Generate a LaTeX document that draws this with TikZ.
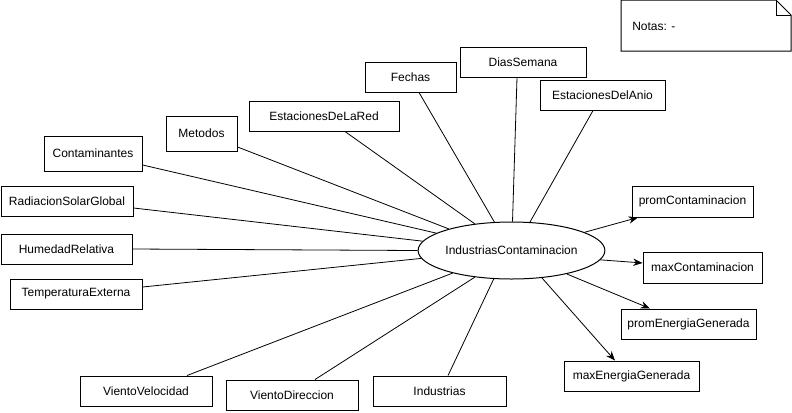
\documentclass[tikz,border=0pt]{standalone}
\usepackage{fontspec}
\setmainfont{Liberation Sans}
\usetikzlibrary{arrows.meta,shapes.geometric}
\begin{document}
\begin{tikzpicture}[x=0.75pt,y=-0.75pt,
  box/.style={draw,line width=0.75pt,inner sep=0pt,font=\fontsize{9}{11}\selectfont,text=black},
  hbox/.style={box,minimum height=22.5pt},
  link/.style={line width=0.6pt},
  arr/.style={line width=0.6pt,-{Stealth[length=7pt,width=5.5pt]}}]
\useasboundingbox (0,0) rectangle (792,412);
% central ellipse
\node[box,ellipse,minimum width=119.25pt,minimum height=42.75pt] (e) at (511.5,250.5) {IndustriasContaminacion};
% input boxes
\node[box,minimum width=53.25pt,minimum height=26.25pt] (metodos) at (201.5,133.5) {Metodos};
\node[box,minimum width=73.5pt,minimum height=26.25pt] (cont) at (93,153.5) {Contaminantes};
\node[hbox,minimum width=99pt] (rad) at (67,201) {RadiacionSolarGlobal};
\node[hbox,minimum width=98.25pt] (hum) at (66.5,249) {HumedadRelativa};
\node[hbox,minimum width=99pt] (temp) at (76,294) {TemperaturaExterna};
\node[hbox,minimum width=99pt] (vvel) at (146,391) {VientoVelocidad};
\node[hbox,minimum width=99pt] (vdir) at (292,395) {VientoDireccion};
\node[hbox,minimum width=99.75pt] (ind) at (439.5,391) {Industrias};
\node[hbox,minimum width=112.5pt] (red) at (324,116) {EstacionesDeLaRed};
\node[hbox,minimum width=68.25pt] (fechas) at (410.5,77) {Fechas};
\node[hbox,minimum width=94.5pt] (dias) at (523,62) {DiasSemana};
\node[hbox,minimum width=93.75pt] (anio) at (602.5,95) {EstacionesDelAnio};
% output boxes
\node[box,minimum width=90.75pt,minimum height=23.25pt] (promC) at (692.5,201.5) {promContaminacion};
\node[box,minimum width=89.25pt,minimum height=23.25pt] (maxC) at (702.5,267.5) {maxContaminacion};
\node[hbox,minimum width=101.25pt] (promE) at (688.5,324) {promEnergiaGenerada};
\node[hbox,minimum width=101.25pt] (maxE) at (631.5,376) {maxEnergiaGenerada};
% note
\draw[line width=0.75pt] (621,0) -- (776,0) -- (791,15) -- (791,51) -- (621,51) -- cycle;
\draw[line width=0.6pt] (776,0) -- (776,15) -- (791,15);
\node[anchor=west,inner sep=0pt,font=\fontsize{9}{11}\selectfont] (nota) at (632,26) {Notas: -};
% connectors (inputs)
\draw[link] ([xshift=15.75pt]red.south) -- (e.144);
\draw[link] ([yshift=-10.1pt]metodos.east) -- (e.161);
\draw[link] ([yshift=-8.6pt]cont.east) -- (e.167);
\draw[link] ([yshift=-5.25pt]rad.east) -- (e.174);
\draw[link] (hum.east) -- (e.180);
\draw[link] ([yshift=5.25pt]temp.east) -- (e.185.5);
\draw[link] ([xshift=30.75pt]vvel.north) -- (e.201);
\draw[link] ([xshift=17.25pt]vdir.north) -- (e.216.5);
\draw[link] ([xshift=6.4pt]ind.north) -- (e.238);
\draw[link] ([xshift=6.4pt]fechas.south) -- (e.121);
\draw[link] ([xshift=-4.5pt]dias.south) -- (e.88);
\draw[link] ([xshift=-7.1pt]anio.south) -- (e.57.5);
% connectors (outputs)
\draw[arr] (e.14) -- ([xshift=-40.9pt]promC.south);
\draw[arr] (e.354.6) -- ([yshift=3.4pt]maxC.west);
\draw[arr] (e.337) -- ([xshift=-28.9pt]promE.north);
\draw[arr] (e.318) -- ([xshift=-12.4pt]maxE.north);
\end{tikzpicture}
\end{document}
